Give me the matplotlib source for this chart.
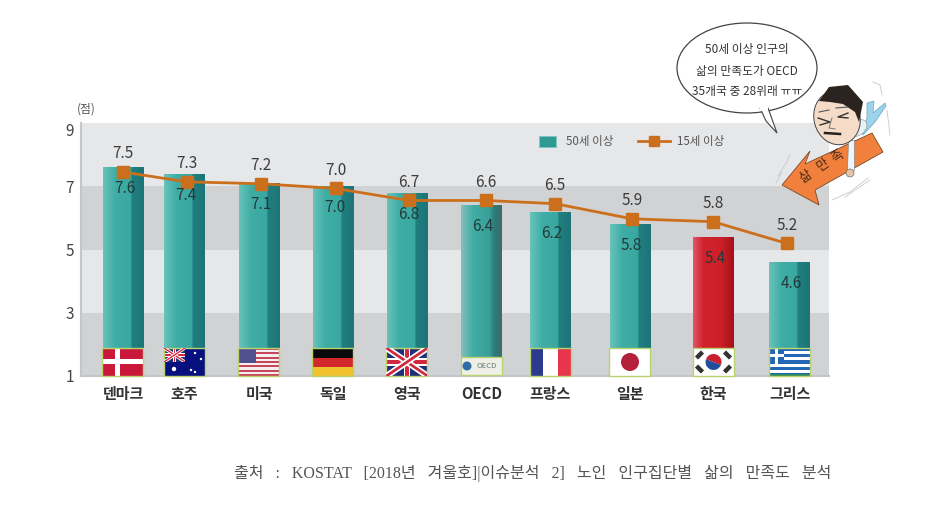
import numpy as np
import matplotlib
matplotlib.use('Agg')
import matplotlib.pyplot as plt
from matplotlib.colors import LinearSegmentedColormap
from matplotlib.lines import Line2D
from matplotlib.patches import Circle, Ellipse, Patch, Polygon, Rectangle, Wedge

plt.rcParams['font.family'] = ['Noto Sans CJK KR', 'DejaVu Sans']

countries = ['덴마크', '호주', '미국', '독일', '영국', 'OECD', '프랑스', '일본', '한국', '그리스']
age50 = [7.6, 7.4, 7.1, 7.0, 6.8, 6.4, 6.2, 5.8, 5.4, 4.6]
age15_labels = ['7.5', '7.3', '7.2', '7.0', '6.7', '6.6', '6.5', '5.9', '5.8', '5.2']
# the line does not sit exactly on its printed numbers, heights
age15 = [7.45, 7.14, 7.08, 6.93, 6.55, 6.55, 6.45, 5.97, 5.88, 5.19]

# centres in pixels, the spacing in the original is uneven
bar_x = [123, 184.5, 259, 333, 407, 481.5, 550.5, 630, 713.5, 789.5]
line_x = [123, 186.5, 261, 335.5, 409, 485.5, 555, 632, 713, 787]
bar_w = 41

W, H = 941, 508
fig = plt.figure(figsize=(W / 100, H / 100), dpi=100)
ax = fig.add_axes([81 / W, 1 - 376 / H, (829 - 81) / W, (376 - 123) / H])
ax.set_xlim(81, 829)
ax.set_ylim(1, 9)

for lo, hi, c in [(7, 9, '#e6e7e9'), (5, 7, '#d1d2d4'), (3, 5, '#e6e7e9'), (1, 3, '#d1d2d4')]:
    ax.axhspan(lo, hi, color=c, lw=0, zorder=0)

teal = LinearSegmentedColormap.from_list('teal', [(0, '#69c3bc'), (0.3, '#3fada5'), (0.68, '#39a8a0'), (0.71, '#217f80'), (1, '#1c7577')])
red = LinearSegmentedColormap.from_list('red', [(0, '#e2566a'), (0.25, '#d0222c'), (0.7, '#cc2027'), (1, '#a50f1a')])
grey_teal = LinearSegmentedColormap.from_list('gt', [(0, '#84c0ba'), (0.3, '#3fada5'), (0.7, '#3a9f98'), (0.8, '#2c7d7b'), (1, '#3d6b69')])

bars = ax.bar(bar_x, [v - 1 for v in age50], bottom=1, width=bar_w, color='#3aa9a1', zorder=2)
grad = np.linspace(0, 1, 128).reshape(1, -1)
for i, b in enumerate(bars):
    cmap = teal
    if countries[i] == '한국':
        cmap = red
    if countries[i] == 'OECD':
        cmap = grey_teal
    im = ax.imshow(grad, cmap=cmap, aspect='auto', zorder=2.1,
                   extent=[b.get_x(), b.get_x() + b.get_width(), b.get_y(), b.get_y() + b.get_height()])
    im.set_clip_path(b)
ax.set_xlim(81, 829)
ax.set_ylim(1, 9)

ax.plot(line_x, age15, color='#cc6f1c', lw=2, marker='s', ms=8, zorder=4)

for x, y, t in zip(line_x, age15, age15_labels):
    ax.annotate(t, (x, y), xytext=(0, 13), textcoords='offset points', ha='center', va='center',
                fontsize=11, color='#3c3c3c', zorder=5)
for x, y in zip(bar_x, age50):
    ax.annotate(str(y), (x, y), xytext=(1, -15.5), textcoords='offset points', ha='center',
                va='center', fontsize=11, color='#25393a', zorder=5)

ax.set_yticks([1, 3, 5, 7, 9])
ax.set_xticks(bar_x)
ax.set_xticklabels(countries, fontsize=10.8, fontweight='bold', color='#333333')
ax.tick_params(axis='both', length=0)
ax.tick_params(axis='x', pad=7.5)
ax.tick_params(axis='y', pad=5, labelsize=11, labelcolor='#444444')
ax.get_yticklabels()[-1].set_va('top')
for s in ['top', 'right']:
    ax.spines[s].set_visible(False)
for s in ['left', 'bottom']:
    ax.spines[s].set_color('#c4c5c7')
    ax.spines[s].set_linewidth(1.5)

leg1 = ax.legend([Patch(facecolor='#2f9a94', edgecolor='#7cc7c1', lw=0.5)], ['50세 이상'], frameon=False, fontsize=8.3,
                 labelcolor='#555555', loc='center left', bbox_to_anchor=((539 - 81) / 748, 0.925), borderpad=0,
                 borderaxespad=0, handlelength=1.5, handleheight=1.0, handletextpad=0.87)
ax.add_artist(leg1)
ax.legend([Line2D([0], [0], color='#cc6f1c', lw=2, marker='s', ms=7)], ['15세 이상'], frameon=False, fontsize=8.3,
          labelcolor='#555555', loc='center left', bbox_to_anchor=((638 - 81) / 748, 0.925), borderpad=0,
          borderaxespad=0, handlelength=2.8, handletextpad=0.6)

# overlay in pixel coordinates for flags and the cartoon
ov = fig.add_axes([0, 0, 1, 1], zorder=10)
ov.set_xlim(0, W)
ov.set_ylim(H, 0)
ov.axis('off')
ov.patch.set_alpha(0)


def rect(x, y, w, h, c, clip=None):
    p = Rectangle((x, y), w, h, facecolor=c, edgecolor='none')
    ov.add_patch(p)
    if clip is not None:
        p.set_clip_path(clip)
    return p


def union_jack(x, y, w, h):
    base = rect(x, y, w, h, '#1f2f75')
    for a, b in [((x, y), (x + w, y + h)), ((x, y + h), (x + w, y))]:
        l1, = ov.plot([a[0], b[0]], [a[1], b[1]], color='white', lw=h * 0.16, solid_capstyle='butt')
        l2, = ov.plot([a[0], b[0]], [a[1], b[1]], color='#d0293f', lw=h * 0.07, solid_capstyle='butt')
        l1.set_clip_path(base)
        l2.set_clip_path(base)
    rect(x, y + h * 0.36, w, h * 0.28, 'white')
    rect(x + w * 0.42, y, w * 0.16, h, 'white')
    rect(x, y + h * 0.42, w, h * 0.16, '#d0293f')
    rect(x + w * 0.46, y, w * 0.08, h, '#d0293f')


def draw_flag(name, cx):
    x = cx - 20.5
    y = 348
    w = 41
    h = 28
    if name == '덴마크':
        rect(x, y, w, h, '#c9183a')
        rect(x + 13, y, 5, h, 'white')
        rect(x, y + 11, w, 5, 'white')
    elif name == '호주':
        rect(x, y, w, h, '#06107f')
        union_jack(x, y, 21, 14)
        for sx, sy, r in [(10, 21, 2.2), (27, 22, 1.2), (31, 5, 1.2), (37, 11, 1.2), (31, 24, 1.2)]:
            ov.add_patch(Circle((x + sx, y + sy), r, color='white', lw=0))
    elif name == '미국':
        rect(x, y, w, h, '#f4eeee')
        for k in range(0, 13, 2):
            rect(x, y + k * h / 13, w, h / 13, '#c4475c')
        rect(x, y, 18, 15, '#50508f')
    elif name == '독일':
        rect(x, y, w, 10, '#0a0a0a')
        rect(x, y + 10, w, 9, '#d22a2a')
        rect(x, y + 19, w, 9, '#f0c22e')
    elif name == '영국':
        union_jack(x, y, w, h)
    elif name == 'OECD':
        rect(x, y + 9, w, 18, '#eef0e8')
        ov.add_patch(Rectangle((x, y + 9), w, 18, facecolor='none', edgecolor='#b9d36f', lw=1))
        ov.add_patch(Circle((x + 6, y + 18), 4.5, color='#2c6ea5', lw=0))
        ov.text(x + 26, y + 18, 'OECD', fontsize=5.5, color='#667777', ha='center', va='center')
        return
    elif name == '프랑스':
        rect(x, y, 13, h, '#2a3a8c')
        rect(x + 13, y, 15, h, 'white')
        rect(x + 28, y, 13, h, '#e8344c')
    elif name == '일본':
        rect(x, y, w, h, 'white')
        ov.add_patch(Circle((cx, y + 14), 9, color='#b5213a', lw=0))
    elif name == '한국':
        rect(x, y, w, h, 'white')
        ov.add_patch(Wedge((cx, y + 14), 8, 20, 200, color='#1f4f9a', lw=0))
        ov.add_patch(Wedge((cx, y + 14), 8, 200, 20, color='#c8202f', lw=0))
        for sx, sy in [(-14, -7), (14, -7), (-14, 7), (14, 7)]:
            ov.plot([cx + sx - 3, cx + sx + 3], [y + 14 + sy + np.sign(sx * sy) * 3, y + 14 + sy - np.sign(sx * sy) * 3],
                    color='#333333', lw=3.2, solid_capstyle='butt')
    elif name == '그리스':
        rect(x, y, w, h, 'white')
        for k in range(0, 9, 2):
            rect(x, y + k * h / 9, w, h / 9, '#2467b4')
        rect(x, y, 15, 15.5, '#2467b4')
        rect(x + 6, y, 3.2, 15.5, 'white')
        rect(x, y + 6, 15, 3.2, 'white')
        rect(x, y + h - 2, w, 2, '#2e8a5a')
    ov.add_patch(Rectangle((x, y), w, h, facecolor='none', edgecolor='#b9d36f', lw=1))


for name, cx in zip(countries, bar_x):
    draw_flag(name, cx)

ov.text(86, 109, '(점)', fontsize=8.5, color='#555555', ha='center', va='center')

# speech bubble
ov.add_patch(Ellipse((747, 68), 140, 90, facecolor='white', edgecolor='#444444', lw=0.9, zorder=2))
ov.add_patch(Polygon([(760, 108), (768, 108), (777, 133), (766, 121)], facecolor='white', edgecolor='#444444', lw=0.8, zorder=3))
rect(760, 105, 8, 6, 'white').set_zorder(4)
for yy, t in [(50, '50세 이상 인구의'), (71, '삶의 만족도가 OECD'), (91, '35개국 중 28위래 ㅠㅠ')]:
    ov.text(747, yy, t, fontsize=8.5, color='#333333', ha='center', va='center', zorder=5)

# man on the arrow
ov.add_patch(Polygon([(862, 132), (867, 118), (867, 103), (874, 101), (873, 113), (885, 103), (886, 106), (875, 122), (863, 135)],
                     facecolor='#9cd3ea', edgecolor='#6aa9c5', lw=0.5, zorder=3))
ov.add_patch(Polygon([(782, 185), (810, 151), (805, 164), (872, 133), (883, 152), (815, 190), (819, 205)],
                     facecolor='#f0803c', edgecolor='#7a4a28', lw=0.6, zorder=4))
ov.add_patch(Polygon([(848, 140), (854, 140), (854, 170), (847, 170)], facecolor='#eef6fa', edgecolor='#777777', lw=0.4, zorder=5))
ov.add_patch(Circle((850, 173), 4, facecolor='#e8c4a8', edgecolor='#555555', lw=0.4, zorder=6))
ov.add_patch(Ellipse((858, 128), 20, 14, angle=-40, facecolor='#e5f3f8', edgecolor='#888888', lw=0.4, zorder=4))
ov.add_patch(Ellipse((837, 118), 46, 54, angle=-15, facecolor='#f4dcc8', edgecolor='#444444', lw=0.7, zorder=6))
ov.add_patch(Polygon([(819, 101), (829, 87), (848, 85), (863, 102), (859, 122), (855, 112), (843, 104), (830, 102)],
                     facecolor='#2a2320', edgecolor='none', zorder=7))
ov.plot([818, 830, 820], [118, 122, 125], color='#333333', lw=1, zorder=8)
ov.plot([848, 838, 848], [113, 117, 118], color='#333333', lw=1, zorder=8)
ov.plot([825, 840], [133, 134], color='#222222', lw=1.8, zorder=8)
ov.plot([819, 829], [112, 110], color='#555555', lw=0.8, zorder=8)
ov.plot([836, 848], [108, 107], color='#555555', lw=0.8, zorder=8)
ov.plot([832, 829, 835], [118, 128, 129], color='#777777', lw=0.7, zorder=8)
ov.text(806, 177, '삶', fontsize=9.5, color='#4a2a18', rotation=35, ha='center', va='center', zorder=8)
ov.text(823, 165, '만', fontsize=9.5, color='#4a2a18', rotation=35, ha='center', va='center', zorder=8)
ov.text(838, 157, '족', fontsize=9.5, color='#4a2a18', rotation=35, ha='center', va='center', zorder=8)
# motion lines
for pts in [([778, 786, 790], [176, 163, 155]), ([776, 782], [183, 172]), ([873, 880, 882], [82, 85, 95]),
            ([887, 890], [110, 135]), ([832, 850, 868], [200, 192, 178]), ([845, 870], [197, 180])]:
    ov.plot(pts[0], pts[1], color='#c8c8c8', lw=0.6, zorder=2)

ov.text(533, 473, '출처   :   KOSTAT   [2018년   겨울호]|이슈분석   2]   노인   인구집단별   삶의   만족도   분석',
        family=['Liberation Serif', 'Noto Sans CJK KR'], fontsize=11.5, color='#555555', ha='center', va='center')

fig.savefig('out.png', dpi=100)
